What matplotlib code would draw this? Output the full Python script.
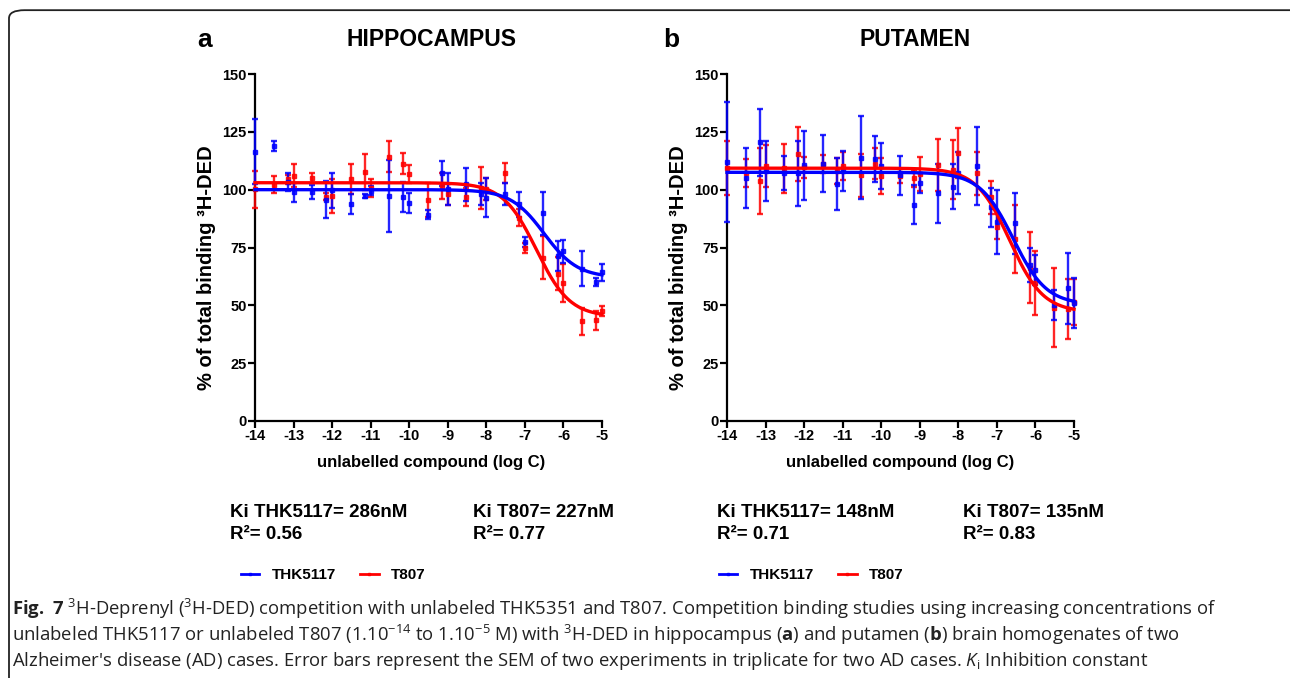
import numpy as np
import matplotlib
matplotlib.use("Agg")
import matplotlib.pyplot as plt
from matplotlib.patches import FancyBboxPatch
from matplotlib.lines import Line2D

plt.rcParams["font.family"] = "Liberation Sans"
plt.rcParams["axes.unicode_minus"] = False
plt.rcParams["mathtext.fontset"] = "custom"
plt.rcParams["mathtext.rm"] = "Open Sans"
plt.rcParams["mathtext.it"] = "Open Sans:italic"
plt.rcParams["mathtext.bf"] = "Open Sans:bold"

# log concentrations of unlabelled compound
log_c = [-14, -13.52, -13.15, -13, -12.52, -12.15, -12, -11.52, -11.15, -11,
         -10.52, -10.15, -10, -9.52, -9.15, -9, -8.52, -8.15, -8, -7.52,
         -7.15, -7, -6.52, -6.15, -6, -5.52, -5.15, -5]

# hippocampus
hip_thk = [116.4, 119, 103.5, 98.8, 99, 95.7, 99.7, 93.8, 97.3, 99.5,
           97.3, 97, 94.2, 89.2, 107, 100.3, 102.3, 98.2, 96.6, 98.2,
           93.7, 77.5, 89.8, 71.3, 73.3, 65.9, 60, 64.2]
hip_thk_err = [14, 2.2, 3.9, 4, 3.1, 8, 7.7, 4.3, 1, 2,
               15.5, 6.5, 4.2, 2, 5.6, 7, 7.2, 4.8, 8.3, 4.8,
               5.4, 2.2, 9.4, 6.5, 4.9, 7.5, 1.8, 3.5]
hip_t807 = [100.1, 102.2, 104.5, 106.1, 105, 97, 97.2, 104.6, 107.6, 100.7,
            114.3, 111.2, 106.7, 95.5, 101.5, 98, 96.8, 100.6, 100.2, 107.2,
            87.9, 74.8, 70.6, 63.7, 59.7, 43.1, 43.5, 47.5]
hip_t807_err = [8.1, 3.7, 2, 4.8, 2.2, 1.5, 7.5, 6.6, 7.9, 4,
                6.6, 4.6, 4, 7.2, 5.6, 4.5, 3.8, 9.1, 4.7, 4.5,
                3.6, 2.3, 9.4, 7, 8.1, 5.8, 4, 2.3]

# putamen
put_thk = [112, 105, 120.5, 108, 107.3, 107, 110.5, 111.2, 102.5, 108.1,
           113.8, 113.4, 110.2, 106.2, 93.5, 102.8, 98.4, 101.3, 107.3, 110.2,
           92.3, 86, 85.4, 67.5, 65.3, 50.1, 57.3, 50.8]
put_thk_err = [26, 13, 14.5, 13, 7.3, 14, 15, 12.3, 11.3, 8.7,
               18, 10, 9.8, 8.5, 8.5, 4.2, 12.8, 9.8, 9, 16.8,
               8.6, 13.8, 13, 7.5, 6.5, 6.5, 15.3, 10.8]
put_t807 = [109.4, 107.2, 103.6, 110.1, 109.2, 115.4, 109.6, 111, 108, 110.3,
            106.2, 111.3, 105.9, 105.9, 104.9, 106.8, 110.7, 108.6, 115.7, 107,
            96.7, 84, 78.6, 66.2, 59.7, 48.9, 48.3, 51.3]
put_t807_err = [11.7, 6.2, 14.3, 9, 10.5, 11.5, 4.7, 4, 5.5, 6,
                9.3, 6.8, 7.9, 3.2, 3.6, 7.2, 11.1, 12.8, 10.8, 9.3,
                7.2, 5.5, 14.8, 15.3, 13.9, 17.1, 13, 10]

# one-site fits: top, bottom, logIC50
hip_thk_fit = (100, 62, -6.5)
hip_t807_fit = (103, 45, -6.7)
put_thk_fit = (107.5, 50.3, -6.58)
put_t807_fit = (109.3, 47, -6.67)

ki_text = [("Ki THK5117= 286nM\nR\u00b2= 0.56", "Ki T807= 227nM\nR\u00b2= 0.77"),
           ("Ki THK5117= 148nM\nR\u00b2= 0.71", "Ki T807= 135nM\nR\u00b2= 0.83")]

BLUE = "#0000ff"
RED = "#ff0000"


def sigmoid(x, fit):
    top, bottom, logic50 = fit
    return bottom + (top - bottom) / (1 + 10 ** (x - logic50))


fig = plt.figure(figsize=(12.9, 6.78), dpi=100)

# rounded border around the figure
border = FancyBboxPatch((9 / 1290, -0.05), 1.2, 1.035, transform=fig.transFigure,
                        boxstyle="round,pad=0,rounding_size=0.012",
                        fc="none", ec="#222222", lw=1.3)
fig.patches.append(border)

axes = [fig.add_axes([255 / 1290, 1 - 421 / 678, 347 / 1290, 347 / 678]),
        fig.add_axes([727 / 1290, 1 - 421 / 678, 347 / 1290, 347 / 678])]

datasets = [(hip_thk, hip_thk_err, hip_t807, hip_t807_err, hip_thk_fit, hip_t807_fit),
            (put_thk, put_thk_err, put_t807, put_t807_err, put_thk_fit, put_t807_fit)]

xs = np.linspace(-14, -5, 300)
for ax, (thk, thk_e, t807, t807_e, fthk, ft807) in zip(axes, datasets):
    for vals, errs, fit, col in ((t807, t807_e, ft807, RED), (thk, thk_e, fthk, BLUE)):
        ax.errorbar(log_c, vals, yerr=errs, fmt="s", ms=2.2, color=col,
                    ecolor=col, elinewidth=1.7, capsize=2.5, capthick=1.7,
                    alpha=0.85, clip_on=False, zorder=3)
        ax.plot(xs, sigmoid(xs, fit), color=col, lw=2.4, zorder=4, clip_on=False)
    ax.set_xlim(-14, -5)
    ax.set_ylim(0, 150)
    ax.set_xticks(range(-14, -4))
    ax.set_yticks(range(0, 151, 25))
    for s in ("top", "right"):
        ax.spines[s].set_visible(False)
    for s in ("left", "bottom"):
        ax.spines[s].set_linewidth(1.6)
    ax.tick_params(direction="out", length=5, width=1.6, labelsize=10.5, pad=1)
    for lab in ax.get_xticklabels() + ax.get_yticklabels():
        lab.set_fontweight("bold")

# panel letters and titles
fig.text(197 / 1290, 1 - 40 / 678, "a", fontsize=19, fontweight="bold", va="center")
fig.text(431 / 1290, 1 - 40 / 678, "HIPPOCAMPUS", fontsize=16.5, fontweight="bold",
         va="center", ha="center")
fig.text(663 / 1290, 1 - 40 / 678, "b", fontsize=19, fontweight="bold", va="center")
fig.text(915 / 1290, 1 - 40 / 678, "PUTAMEN", fontsize=16.5, fontweight="bold",
         va="center", ha="center")

# axis labels
for xl, xc in ((207, 431), (679, 900)):
    fig.text(xl / 1290, 1 - 268 / 678, "% of total binding \u00b3H-DED", rotation=90,
             fontsize=14.5, fontweight="bold", ha="center", va="center")
    fig.text(xc / 1290, 1 - 462 / 678, "unlabelled compound (log C)",
             fontsize=12, fontweight="bold", ha="center", va="center")

# Ki / R2 texts
for (t1, t2), x1, x2 in zip(ki_text, (230, 717), (473, 963)):
    fig.text(x1 / 1290, 1 - 504 / 678, t1, fontsize=13.5, fontweight="bold",
             va="top", linespacing=1.4)
    fig.text(x2 / 1290, 1 - 504 / 678, t2, fontsize=13.5, fontweight="bold",
             va="top", linespacing=1.4)

# legends
handles = [Line2D([], [], color=BLUE, lw=2, marker="s", ms=1.5),
           Line2D([], [], color=RED, lw=2, marker="s", ms=1.5)]
for xlg in (241, 719):
    fig.legend(handles, ["THK5117", "T807"], loc="center left",
               bbox_to_anchor=(xlg / 1290, 1 - 575 / 678), ncol=2, frameon=False,
               borderpad=0, borderaxespad=0, handlelength=1.2, handletextpad=0.8,
               columnspacing=1.6, prop={"weight": "bold", "size": 11})

# caption
cap = [r"$\mathbf{Fig.\ 7}$ $^{3}$H-Deprenyl ($^{3}$H-DED) competition with unlabeled THK5351 and T807. "
       r"Competition binding studies using increasing concentrations of",
       r"unlabeled THK5117 or unlabeled T807 (1.10$^{-14}$ to 1.10$^{-5}$ M) with $^{3}$H-DED in "
       r"hippocampus ($\mathbf{a}$) and putamen ($\mathbf{b}$) brain homogenates of two",
       r"Alzheimer's disease (AD) cases. Error bars represent the SEM of two experiments in "
       r"triplicate for two AD cases. $K_\mathrm{i}$ Inhibition constant"]
for i, line in enumerate(cap):
    fig.text(12 / 1290, 1 - (609 + 26 * i) / 678, line, family="Open Sans",
             fontsize=13.3, va="center", color="#222222")

fig.savefig("out.png", dpi=100)
